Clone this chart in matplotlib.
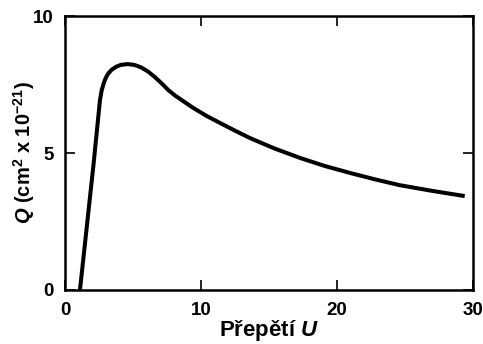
import matplotlib
matplotlib.use("Agg")
import matplotlib.pyplot as plt

# Data
overvoltage = [1.1, 1.6, 2.1, 2.57, 2.7, 2.85, 3.0, 3.2, 3.45, 3.75, 4.1, 4.6, 5.1, 5.6, 6.1, 6.6,
               7.1, 7.6, 8.1, 8.6, 9.4, 10.4, 11.4, 12.5, 13.6, 15.4, 17.3, 19.1, 21.0, 22.8,
               24.6, 27.0, 29.4]
cross_section = [0.0, 2.3, 4.6, 6.93, 7.3, 7.55, 7.75, 7.92, 8.05, 8.15, 8.22, 8.25, 8.22, 8.13,
                 7.98, 7.78, 7.55, 7.3, 7.1, 6.93, 6.66, 6.36, 6.1, 5.82, 5.55, 5.17, 4.82, 4.53,
                 4.27, 4.04, 3.83, 3.62, 3.43]
x_ticks = [0, 10, 20, 30]
y_ticks = [0, 5, 10]

plt.rcParams['font.family'] = ['Liberation Sans', 'DejaVu Sans']
plt.rcParams['mathtext.fontset'] = 'custom'
plt.rcParams['mathtext.it'] = 'Liberation Sans:italic:bold'
plt.rcParams['mathtext.rm'] = 'Liberation Sans:bold'
plt.rcParams['mathtext.bf'] = 'Liberation Sans:bold'

fig = plt.figure(figsize=(4.83, 3.44), dpi=100)
ax = fig.add_axes([0.1346, 0.157, 0.8444, 0.796])

ax.plot(overvoltage, cross_section, color='black', lw=2.9, solid_capstyle='butt',
        solid_joinstyle='round')

ax.set_xlim(0, 30)
ax.set_ylim(0, 10)
ax.set_xticks(x_ticks)
ax.set_yticks(y_ticks)
ax.tick_params(direction='in', length=7, width=1.2, top=True, right=True,
               labelsize=13.5)
ax.tick_params(axis='x', pad=9)
ax.tick_params(axis='y', pad=8)
for lab in ax.get_xticklabels() + ax.get_yticklabels():
    lab.set_fontweight('bold')
for s in ax.spines.values():
    s.set_linewidth(1.8)

ax.set_xlabel('Přepětí ', fontsize=16, fontweight='bold', labelpad=-1)
ax.xaxis.label.set_text('Přepětí $\\mathit{U}$')
ax.set_ylabel(r'$\mathit{Q}$ (cm$^{\mathbf{2}}$ x 10$^{\mathbf{-21}}$)', fontsize=14.5,
              fontweight='bold', labelpad=-3)

fig.savefig('out.png', dpi=100)
